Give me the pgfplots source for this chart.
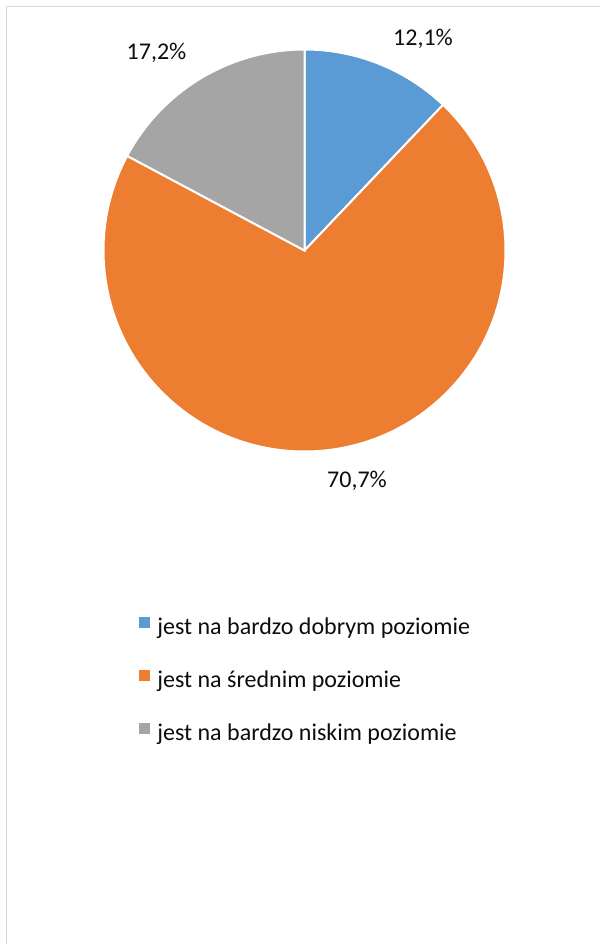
\documentclass[border=0pt]{standalone}
\usepackage{fontspec}
\setmainfont{Carlito}
\usepackage{pgfplots}
\pgfplotsset{compat=1.18}
\definecolor{pblue}{HTML}{5B9BD5}
\definecolor{porange}{HTML}{ED7D31}
\definecolor{pgray}{HTML}{A5A5A5}
\definecolor{framec}{HTML}{D9D9D9}
\definecolor{txt}{HTML}{0D0D0D}
\begin{document}
\begin{tikzpicture}
\path[use as bounding box] (0,0) rectangle (600bp,944bp);
% data (percent)
\def\vA{12.1}% jest na bardzo dobrym poziomie
\def\vB{70.7}% jest na średnim poziomie
\def\vC{17.2}% jest na bardzo niskim poziomie
\pgfmathsetmacro\aA{90-3.6*\vA}
\pgfmathsetmacro\aB{\aA-3.6*\vB}
\pgfmathsetmacro\aC{\aB-3.6*\vC}
\begin{axis}[
  x=1bp, y=1bp, xmin=0, xmax=600, ymin=0, ymax=944,
  anchor=south west, at={(0,0)},
  hide axis, clip=false,
  legend cell align=left,
  legend style={draw=none, fill=none, at={(axis cs:139,328)}, anchor=north west,
    inner sep=0pt, outer sep=0pt, text=txt,
    font=\fontsize{24bp}{28bp}\selectfont, row sep=29bp,
    nodes={inner sep=0pt, text height=18bp, text depth=6bp},
    /tikz/every odd column/.append style={column sep=8bp}},
]
\addplot[draw=framec, line width=1.5bp, forget plot] coordinates {(6.5,0) (6.5,937.5) (600,937.5)};
\fill[pblue, draw=white, line width=2bp] (axis cs:304.5,693.5) -- ++(90:201bp) arc[start angle=90, end angle=\aA, radius=201bp] -- cycle;
\fill[porange, draw=white, line width=2bp] (axis cs:304.5,693.5) -- ++(\aA:201bp) arc[start angle=\aA, end angle=\aB, radius=201bp] -- cycle;
\fill[pgray, draw=white, line width=2bp] (axis cs:304.5,693.5) -- ++(\aB:201bp) arc[start angle=\aB, end angle=\aC, radius=201bp] -- cycle;
\node[anchor=base, text=txt, font=\fontsize{24bp}{28bp}\selectfont] at (axis cs:423,898) {12,1\%};
\node[anchor=base, text=txt, font=\fontsize{24bp}{28bp}\selectfont] at (axis cs:357,456) {70,7\%};
\node[anchor=base, text=txt, font=\fontsize{24bp}{28bp}\selectfont] at (axis cs:156.5,884) {17,2\%};
\addlegendimage{legend image code/.code={\fill[pblue] (0bp,1bp) rectangle (10bp,11bp);}}
\addlegendentry{jest na bardzo dobrym poziomie}
\addlegendimage{legend image code/.code={\fill[porange] (0bp,1bp) rectangle (10bp,11bp);}}
\addlegendentry{jest na średnim poziomie}
\addlegendimage{legend image code/.code={\fill[pgray] (0bp,1bp) rectangle (10bp,11bp);}}
\addlegendentry{jest na bardzo niskim poziomie}
\end{axis}
\end{tikzpicture}
\end{document}
